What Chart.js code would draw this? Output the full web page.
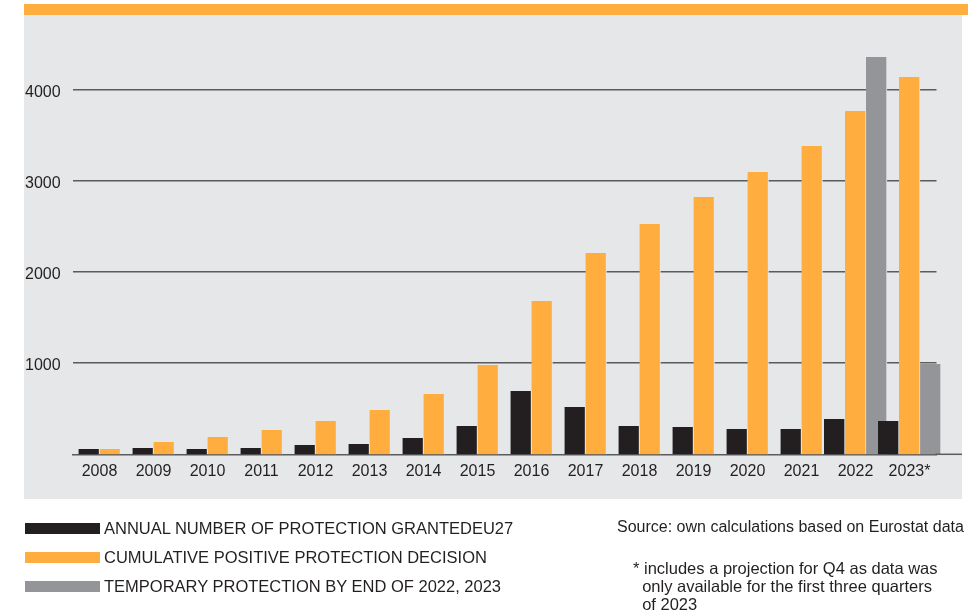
<!DOCTYPE html>
<html>
<head>
<meta charset="utf-8">
<script src="https://cdn.jsdelivr.net/npm/chart.js@4.4.1/dist/chart.umd.min.js"></script>
<style>
  html, body { margin:0; padding:0; background:#ffffff; }
  body { width:968px; height:614px; position:relative; overflow:hidden; font-family:"Liberation Sans", Arial, sans-serif; color:#231f20; }
  #band { position:absolute; left:24px; top:4px; width:944px; height:11px; background:#ffad3f; }
  #panel { position:absolute; left:24px; top:15px; width:938px; height:484px; background:#e6e7e8; }
  #c { position:absolute; left:0; top:0; }
  .leg { position:absolute; left:25px; height:11px; width:75px; }
  .legt { position:absolute; left:104px; font-size:16.5px; line-height:18px; white-space:nowrap; }
  .note { position:absolute; font-size:16px; line-height:18px; white-space:nowrap; }
</style>
</head>
<body>
<div id="band"></div>
<div id="panel"></div>
<canvas id="c" width="968" height="614"></canvas>

<div class="leg" style="top:523px;background:#231f20"></div>
<div class="legt" style="top:519px">ANNUAL NUMBER OF PROTECTION GRANTEDEU27</div>
<div class="leg" style="top:552px;background:#ffad3f"></div>
<div class="legt" style="top:548px">CUMULATIVE POSITIVE PROTECTION DECISION</div>
<div class="leg" style="top:581px;background:#939598"></div>
<div class="legt" style="top:577px">TEMPORARY PROTECTION BY END OF 2022, 2023</div>

<div class="note" style="left:617px;top:518px">Source: own calculations based on Eurostat data</div>
<div class="note" style="left:633px;top:559px;font-size:16.5px">* includes a projection for Q4 as data was<br>&nbsp;&nbsp;only available for the first three quarters<br>&nbsp;&nbsp;of 2023</div>

<script>
const categories = ['2008','2009','2010','2011','2012','2013','2014','2015','2016','2017','2018','2019','2020','2021','2022','2023*'];
const annualGranted = [58, 69, 58, 69, 102, 113, 179, 311, 694, 519, 311, 300, 278, 278, 387, 365];
const cumulativePositive = [58, 135, 190, 267, 365, 486, 661, 979, 1681, 2207, 2525, 2821, 3095, 3380, 3764, 4137];
const temporaryProtection = [null, null, null, null, null, null, null, null, null, null, null, null, null, null, 4357, 990];
const yTickValues = [1000, 2000, 3000, 4000];

const BG = '#e6e7e8';
const AXIS = '#5a5b5d';
const barStyle = (color) => ({
  backgroundColor: color,
  borderColor: BG,
  borderWidth: {top:0, right:1, bottom:0, left:0},
  borderSkipped: 'start',
  barThickness: 21,
  skipNull: true,
  clip: false
});

// extends the x-axis baseline to the right edge of the grey panel, as in the reference
const baselineExtend = {
  id: 'baselineExtend',
  afterDraw(chart) {
    const ctx = chart.ctx, a = chart.chartArea;
    ctx.save();
    ctx.strokeStyle = AXIS;
    ctx.lineWidth = 1.5;
    ctx.beginPath();
    ctx.moveTo(a.right - 1, a.bottom);
    ctx.lineTo(962, a.bottom);
    ctx.stroke();
    ctx.restore();
  }
};

new Chart(document.getElementById('c'), {
  type: 'bar',
  data: {
    labels: categories,
    datasets: [
      Object.assign({ label: 'ANNUAL NUMBER OF PROTECTION GRANTEDEU27', data: annualGranted }, barStyle('#231f20')),
      Object.assign({ label: 'CUMULATIVE POSITIVE PROTECTION DECISION', data: cumulativePositive }, barStyle('#ffad3f')),
      Object.assign({ label: 'TEMPORARY PROTECTION BY END OF 2022, 2023', data: temporaryProtection }, barStyle('#939598'))
    ]
  },
  plugins: [baselineExtend],
  options: {
    responsive: false,
    animation: false,
    devicePixelRatio: 1,
    layout: { padding: { left: 25, top: 16.5, right: 31.5, bottom: 119.7 } },
    plugins: { legend: { display: false }, tooltip: { enabled: false } },
    scales: {
      x: {
        grid: { display: false, drawTicks: false },
        border: { display: true, color: AXIS, width: 1.5 },
        ticks: { color: '#231f20', font: { family: '"Liberation Sans", Arial, sans-serif', size: 16 }, padding: 8, maxRotation: 0, autoSkip: false },
        afterFit: (s) => { s.height = 40; }
      },
      y: {
        min: 0,
        max: 4800,
        grid: { color: AXIS, lineWidth: 1.5, drawTicks: false },
        border: { display: false },
        ticks: {
          stepSize: 1000,
          includeBounds: false,
          crossAlign: 'far',
          labelOffset: 3,
          color: '#231f20',
          font: { family: '"Liberation Sans", Arial, sans-serif', size: 16 },
          callback: (v) => String(v)
        },
        afterBuildTicks: (s) => { s.ticks = yTickValues.map(v => ({ value: v })); },
        afterFit: (s) => { s.width = 47.5; }
      }
    }
  }
});
</script>
</body>
</html>
